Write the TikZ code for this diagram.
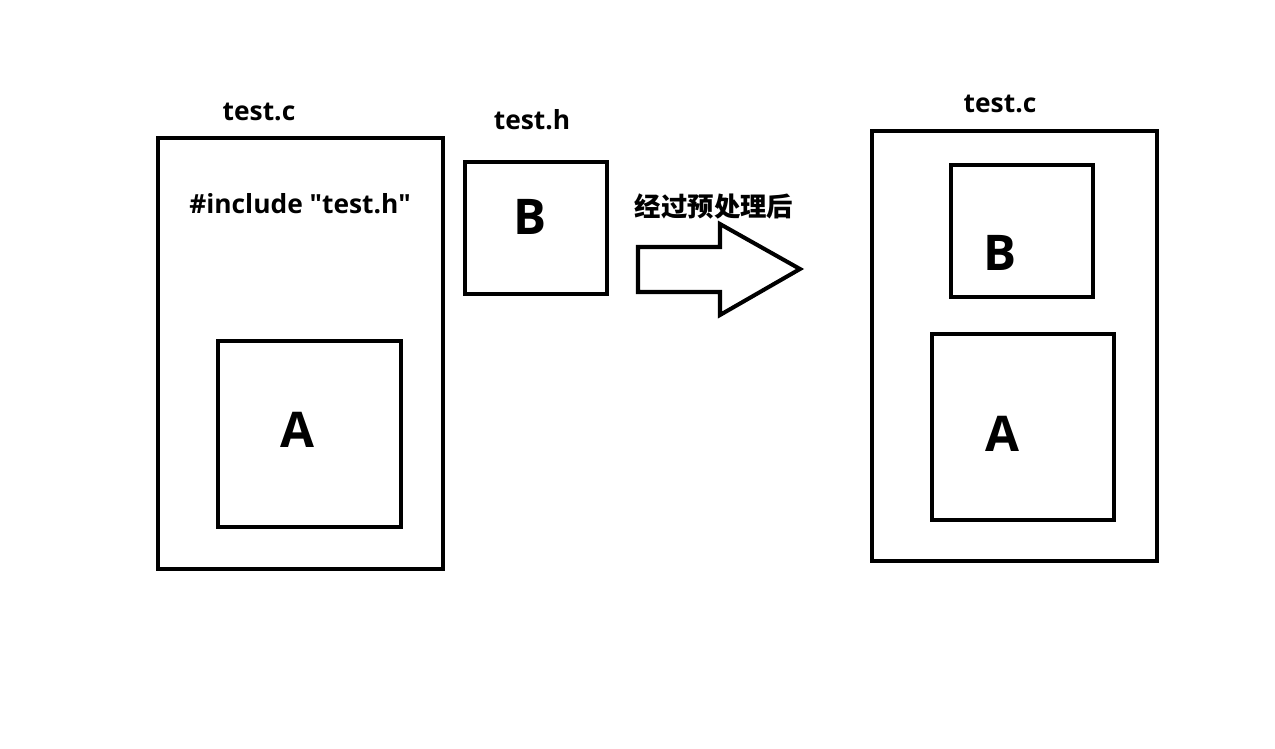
\documentclass[tikz,border=0pt]{standalone}
\usepackage{fontspec}
\setmainfont{Open Sans}[Ligatures=TeXOff]
\newfontfamily\cjk{Noto Sans CJK SC}
\usetikzlibrary{positioning}

\tikzset{
  filebox/.style={draw=black, line width=2.3pt, minimum width=#1},
  labeltext/.style={font=\fontsize{15}{18}\selectfont\bfseries},
  bigletter/.style={font=\fontsize{28}{33}\selectfont\bfseries}
}

\begin{document}
\begin{tikzpicture}[x=0.02cm, y=-0.02cm]
  \useasboundingbox (0,0) rectangle (1275,748);
    % source file before preprocessing
    \node[filebox=5.7cm, minimum height=8.62cm] (srcc) at (300.5,353.5) {};
    \node[labeltext] (srcname) at (259,112) {test.c};
    \node[labeltext] (incl) at (300,204) {\#include "test.h"};
    \node[filebox=3.66cm, minimum height=3.72cm] (srca) at (309.5,434) {};
    \node[bigletter] at (297,430) {A};
    % header file
    \node[filebox=2.84cm, minimum height=2.64cm] (hdr) at (536,228) {};
    \node[labeltext] (hdrname) at (532,120) {test.h};
    \node[bigletter] at (530,217) {B};
    % arrow
    \node[labeltext, font=\fontsize{15}{18}\selectfont\cjk\bfseries] (step) at (714,206) {经过预处理后};
    \draw[line width=2.3pt, line join=miter] (638,247) -- (720,247) -- (720,224) -- (800,269)
      -- (720,315) -- (720,292) -- (638,292) -- cycle;
    % source file after preprocessing
    \node[filebox=5.7cm, minimum height=8.6cm] (outc) at (1014.5,346) {};
    \node[labeltext] (outname) at (1000,104) {test.c};
    \node[filebox=2.84cm, minimum height=2.64cm] (outb) at (1022,231) {};
    \node[bigletter] at (1000,253) {B};
    \node[filebox=3.64cm, minimum height=3.72cm] (outa) at (1023,427) {};
    \node[bigletter] at (1002,434) {A};
\end{tikzpicture}
\end{document}
